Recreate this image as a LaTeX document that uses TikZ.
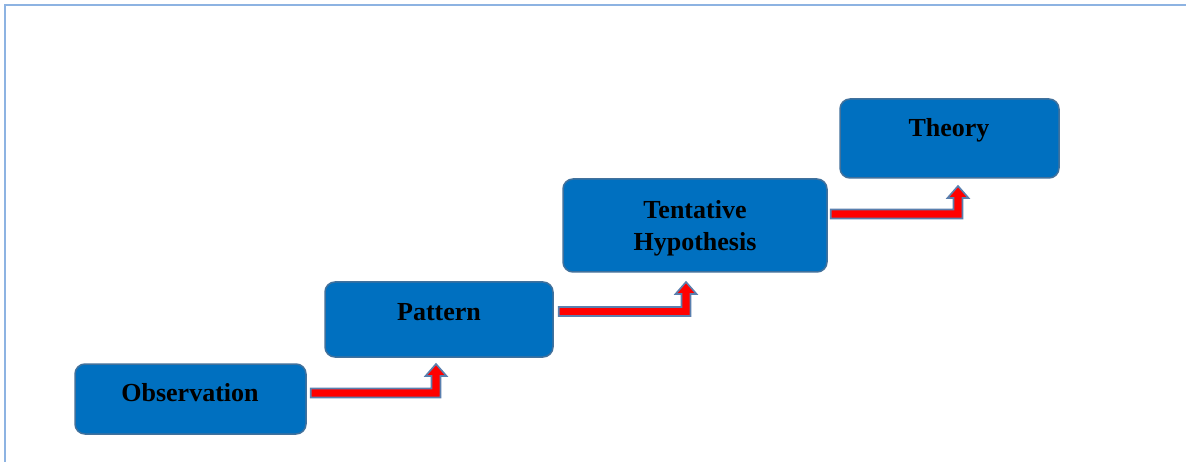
\documentclass[tikz,border=0pt]{standalone}
\usepackage{fontspec}
\setmainfont{Liberation Serif}
\usetikzlibrary{calc}
\definecolor{boxfill}{HTML}{0070C0}
\definecolor{boxline}{HTML}{41719C}
\definecolor{arrline}{HTML}{5A7FAE}
\definecolor{frameline}{HTML}{8DB3E2}
\tikzset{
  stepbox/.style={draw=boxline, line width=1.5pt, fill=boxfill, rounded corners=10pt,
    rectangle, inner sep=0pt},
  boxtext/.style={font=\fontsize{26}{32}\selectfont\bfseries, text=black, align=center, inner sep=0pt},
  arrowshape/.style={fill=red, draw=arrline, line width=1.6pt, line join=miter},
}
% bent-up block arrow: horizontal shaft from #1, turning up to the tip #2
\newcommand\bentarrow[2]{%
  \path[arrowshape] let \p1=(#1), \p2=(#2) in
    (\x1,\y1+4.5pt) -- (\x2-4.5pt,\y1+4.5pt) -- (\x2-4.5pt,\y2-12pt) --
    (\x2-10.5pt,\y2-12pt) -- (\x2,\y2) -- (\x2+10.5pt,\y2-12pt) --
    (\x2+4.5pt,\y2-12pt) -- (\x2+4.5pt,\y1-4.5pt) -- (\x1,\y1-4.5pt) -- cycle;}
\begin{document}
\begin{tikzpicture}[x=1pt,y=-1pt]
  \useasboundingbox (0,0) rectangle (1186,462);
  \fill[white] (0,0) rectangle (1186,462);
  % frame
  \draw[frameline, line width=2pt] (5,462) -- (5,5) -- (1186,5);

  % boxes
  \node[stepbox, minimum width=231pt, minimum height=70pt] (obs) at (190.5,399) {};
  \node[stepbox, minimum width=228pt, minimum height=75pt] (pat) at (439,319.5) {};
  \node[stepbox, minimum width=264pt, minimum height=93pt] (hyp) at (695,225.5) {};
  \node[stepbox, minimum width=219pt, minimum height=79pt] (the) at (949.5,138.5) {};

  % labels
  \node[boxtext] (obst) at (190,393) {Observation};
  \node[boxtext] (patt) at (439,312) {Pattern};
  \node[boxtext] (hypt) at (695,228) {Tentative\\Hypothesis};
  \node[boxtext] (thet) at (949,130) {Theory};

  % arrow end points
  \coordinate (a1s) at ($(obs.east)+(4,-6)$);
  \coordinate (a1t) at (436,364);
  \coordinate (a2s) at ($(pat.east)+(5,-8)$);
  \coordinate (a2t) at (686,282);
  \coordinate (a3s) at ($(hyp.east)+(3,-11.5)$);
  \coordinate (a3t) at (958,186);

  \bentarrow{a1s}{a1t}
  \bentarrow{a2s}{a2t}
  \bentarrow{a3s}{a3t}
\end{tikzpicture}
\end{document}
